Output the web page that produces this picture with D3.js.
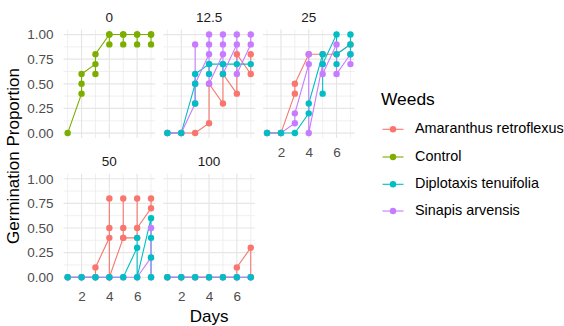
<!DOCTYPE html>
<html>
<head>
<meta charset="utf-8">
<script src="https://cdn.jsdelivr.net/npm/d3@7"></script>
<style>
  body{margin:0;background:#fff;}
  text{font-family:"Liberation Sans",Arial,sans-serif;}
</style>
</head>
<body>
<svg id="chart" width="564" height="326"></svg>
<script>
// jours et niveaux
var days=[1,2,3,4,5,6,7];
var doses=["0","12.5","25","50","100"];
var weeds=["Amaranthus retroflexus","Control","Diplotaxis tenuifolia","Sinapis arvensis"];
var weedColors=["#F8766D","#7CAE00","#00BFC4","#C77CFF"];
var yTicks=[0,0.25,0.5,0.75,1];
var xTicks=[2,4,6];

// une liste par jour, valeurs dans l'ordre des lignes du tableau
var control_0=[[0],[0.4,0.5,0.6],[0.7,0.6,0.8],[1,0.9,1],[1,0.9,1],[1,0.9,1],[1,0.9,1]];

var amaranthus_12=[[0],[0],[0],[0.1,0.5],[0.3,0.6],[0.4,0.8],[0.6,0.8]];
var diplotaxis_12=[[0],[0],[0.5,0.3,0.6],[0.7,0.6,0.7],[0.7,0.6,0.7],[0.7],[0.7]];
var sinapis_12=[[0],[0],[0.3,0.9,0.5],[0.8,1,0.9,0.5],[0.8,1,0.9,0.6],[0.9,1,0.6],[0.9,1]];

var amaranthus_25=[[0],[0],[0.4,0.5],[0.8],[0.8],[0.8],[0.9]];
var diplotaxis_25=[[0],[0],[0],[0.2,0.3],[0.8,0.4,0.7],[1,0.7,0.8],[0.9,1,0.8]];
var sinapis_25=[[0],[0],[0.1,0.2],[0.7,0.8,0],[0.7,0.6],[0.9,0.6],[0.8,0.7]];

var amaranthus_50=[[0],[0],[0,0.1],[0.4,0.8,0.5,0],[0.4,0.8,0.5,0.4],[0.4,0.8,0.5],[0.7,0.8]];
var diplotaxis_50=[[0],[0],[0],[0],[0],[0.3,0.4,0],[0.6,0.4,0.2,0]];
var sinapis_50=[[0],[0],[0],[0],[0],[0],[0.2,0.5,0]];

var amaranthus_100=[[0],[0],[0],[0],[0],[0,0.1],[0.3,0]];
var diplotaxis_100=[[0],[0],[0],[0],[0],[0],[0]];
var sinapis_100=[[0],[0],[0],[0],[0],[0],[0]];

var panelSeries={
  "0":[[1,control_0]],
  "12.5":[[0,amaranthus_12],[2,diplotaxis_12],[3,sinapis_12]],
  "25":[[0,amaranthus_25],[2,diplotaxis_25],[3,sinapis_25]],
  "50":[[0,amaranthus_50],[2,diplotaxis_50],[3,sinapis_50]],
  "100":[[0,amaranthus_100],[2,diplotaxis_100],[3,sinapis_100]]
};
var pointOrder=[1,0,3,2];//ordre des points (le turquoise dessus)

var svg=d3.select("#chart");
var panelW=91.7, panelH=108.4, colStep=99.7;
var rowTop=[29.6,173.8];
var left0=63.5;

var x=d3.scaleLinear().domain([0.7,7.3]).range([0,panelW]);
var y=d3.scaleLinear().domain([-0.05,1.05]).range([panelH,0]);

function flatten(series){
  var pts=[];
  series.forEach(function(vals,i){
    vals.forEach(function(v){pts.push({d:days[i],v:v});});
  });
  return pts;
}

doses.forEach(function(dose,k){
  var col=k%3, row=Math.floor(k/3);
  var g=svg.append("g").attr("transform","translate("+(left0+col*colStep)+","+rowTop[row]+")");

  //grille mineure puis majeure
  var minorX=[1,3,5,7], minorY=[0.125,0.375,0.625,0.875];
  g.selectAll(".mx").data(minorX).enter().append("line")
    .attr("x1",function(d){return x(d);}).attr("x2",function(d){return x(d);})
    .attr("y1",0).attr("y2",panelH).style("stroke","#ececec").style("stroke-width",0.8);
  g.selectAll(".my").data(minorY).enter().append("line")
    .attr("y1",function(d){return y(d);}).attr("y2",function(d){return y(d);})
    .attr("x1",0).attr("x2",panelW).style("stroke","#ececec").style("stroke-width",0.8);
  g.selectAll(".gx").data(xTicks).enter().append("line")
    .attr("x1",function(d){return x(d);}).attr("x2",function(d){return x(d);})
    .attr("y1",0).attr("y2",panelH).style("stroke","#e6e6e6").style("stroke-width",1.2);
  g.selectAll(".gy").data(yTicks).enter().append("line")
    .attr("y1",function(d){return y(d);}).attr("y2",function(d){return y(d);})
    .attr("x1",0).attr("x2",panelW).style("stroke","#e6e6e6").style("stroke-width",1.2);

  //titre du panneau
  svg.append("text").attr("x",left0+col*colStep+panelW/2).attr("y",rowTop[row]-11.5)
    .attr("text-anchor","middle").attr("dominant-baseline","middle")
    .style("font-size","13.5px").style("fill","#1a1a1a").text(dose);

  var line=d3.line().x(function(p){return x(p.d);}).y(function(p){return y(p.v);});
  var series=panelSeries[dose];
  series.forEach(function(s){
    g.append("path").datum(flatten(s[1])).attr("d",line)
      .style("fill","none").style("stroke",weedColors[s[0]]).style("stroke-width",1.1);
  });
  pointOrder.forEach(function(w){
    series.filter(function(s){return s[0]==w;}).forEach(function(s){
      g.selectAll(null).data(flatten(s[1])).enter().append("circle")
        .attr("cx",function(p){return x(p.d);}).attr("cy",function(p){return y(p.v);})
        .attr("r",3.2).style("fill",weedColors[w]);
    });
  });

  //axe y seulement colonne 1
  if(col==0){
    var ay=g.append("g").call(d3.axisLeft(y).tickValues(yTicks).tickFormat(d3.format(".2f")).tickSize(0).tickPadding(10));
    ay.select(".domain").remove();
    ay.selectAll("text").style("font-size","13.5px").style("fill","#4d4d4d").style("font-family","Liberation Sans, Arial, sans-serif");
  }
  //axe x sous le dernier panneau de chaque colonne
  if(row==1 || (row==0 && col==2)){
    var ax=g.append("g").attr("transform","translate(0,"+panelH+")")
      .call(d3.axisBottom(x).tickValues(xTicks).tickFormat(d3.format("d")).tickSize(0).tickPadding(9));
    ax.select(".domain").remove();
    ax.selectAll("text").style("font-size","13.5px").style("fill","#4d4d4d").style("font-family","Liberation Sans, Arial, sans-serif");
  }
});

//titres des axes
svg.append("text").attr("x",left0+(2*colStep+panelW)/2).attr("y",318)
  .attr("text-anchor","middle").attr("dominant-baseline","middle")
  .style("font-size","17px").style("fill","#000").text("Days");
svg.append("text").attr("transform","translate(15,156) rotate(-90)")
  .attr("text-anchor","middle").attr("dominant-baseline","middle")
  .style("font-size","17px").style("fill","#000").text("Germination Proportion");

//légende
var leg=svg.append("g").attr("transform","translate(381,0)");
leg.append("text").attr("x",0).attr("y",100).attr("dominant-baseline","middle")
  .style("font-size","17.4px").style("fill","#000").text("Weeds");
var itemY=[129.3,157,184.3,211];
weeds.forEach(function(w,i){
  var it=leg.append("g").attr("transform","translate(0,"+itemY[i]+")");
  it.append("line").attr("x1",1.5).attr("x2",22.5).attr("y1",0).attr("y2",0)
    .style("stroke",weedColors[i]).style("stroke-width",1.1);
  it.append("circle").attr("cx",12).attr("cy",0).attr("r",3.2).style("fill",weedColors[i]);
  it.append("text").attr("x",34).attr("y",0).attr("dominant-baseline","middle")
    .style("font-size","14.4px").style("fill","#000").text(w);
});
</script>
</body>
</html>
